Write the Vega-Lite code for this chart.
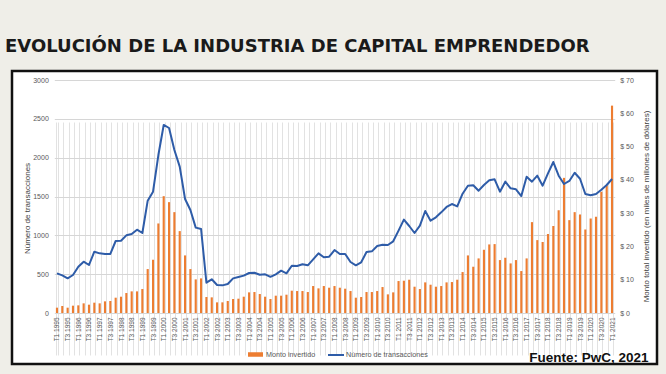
{
  "$schema": "https://vega.github.io/schema/vega-lite/v6.json",
  "width": 645,
  "height": 293,
  "autosize": {"type": "none"},
  "padding": {"left": 12, "top": 71, "right": 9, "bottom": 10},
  "background": "#efeee8",
  "view": {"fill": "white", "stroke": "#111111", "strokeWidth": 2.5},
  "title": {
    "text": "EVOLUCIÓN DE LA INDUSTRIA DE CAPITAL EMPRENDEDOR",
    "anchor": "start",
    "font": "DejaVu Sans",
    "fontSize": 18,
    "fontWeight": "bold",
    "color": "#1a1a1a",
    "offset": 15,
    "dx": -4
  },
  "data": {
    "values": [
      {"q": "T1 1995", "m": 1.6, "n": 511},
      {"q": "T2 1995", "m": 2.1, "n": 485},
      {"q": "T3 1995", "m": 1.6, "n": 447},
      {"q": "T4 1995", "m": 2.2, "n": 489},
      {"q": "T1 1996", "m": 2.3, "n": 596},
      {"q": "T2 1996", "m": 2.9, "n": 661},
      {"q": "T3 1996", "m": 2.5, "n": 618},
      {"q": "T4 1996", "m": 3.1, "n": 789},
      {"q": "T1 1997", "m": 2.9, "n": 768},
      {"q": "T2 1997", "m": 3.5, "n": 760},
      {"q": "T3 1997", "m": 3.6, "n": 760},
      {"q": "T4 1997", "m": 4.6, "n": 927},
      {"q": "T1 1998", "m": 4.9, "n": 931},
      {"q": "T2 1998", "m": 6.0, "n": 1000},
      {"q": "T3 1998", "m": 6.5, "n": 1017},
      {"q": "T4 1998", "m": 6.5, "n": 1073},
      {"q": "T1 1999", "m": 7.2, "n": 1030},
      {"q": "T2 1999", "m": 13.2, "n": 1446},
      {"q": "T3 1999", "m": 16.0, "n": 1562},
      {"q": "T4 1999", "m": 26.9, "n": 2034},
      {"q": "T1 2000", "m": 35.1, "n": 2421},
      {"q": "T2 2000", "m": 33.3, "n": 2382},
      {"q": "T3 2000", "m": 30.3, "n": 2099},
      {"q": "T4 2000", "m": 24.6, "n": 1884},
      {"q": "T1 2001", "m": 17.3, "n": 1468},
      {"q": "T2 2001", "m": 13.2, "n": 1326},
      {"q": "T3 2001", "m": 10.1, "n": 1099},
      {"q": "T4 2001", "m": 10.4, "n": 1082},
      {"q": "T1 2002", "m": 4.8, "n": 390},
      {"q": "T2 2002", "m": 4.7, "n": 434},
      {"q": "T3 2002", "m": 3.2, "n": 361},
      {"q": "T4 2002", "m": 3.2, "n": 356},
      {"q": "T1 2003", "m": 3.6, "n": 373},
      {"q": "T2 2003", "m": 4.2, "n": 446},
      {"q": "T3 2003", "m": 4.3, "n": 464},
      {"q": "T4 2003", "m": 4.9, "n": 481},
      {"q": "T1 2004", "m": 6.2, "n": 515},
      {"q": "T2 2004", "m": 6.3, "n": 519},
      {"q": "T3 2004", "m": 5.7, "n": 493},
      {"q": "T4 2004", "m": 4.9, "n": 498},
      {"q": "T1 2005", "m": 4.2, "n": 466},
      {"q": "T2 2005", "m": 5.2, "n": 498},
      {"q": "T3 2005", "m": 5.2, "n": 545},
      {"q": "T4 2005", "m": 5.5, "n": 511},
      {"q": "T1 2006", "m": 6.7, "n": 609},
      {"q": "T2 2006", "m": 6.6, "n": 605},
      {"q": "T3 2006", "m": 6.6, "n": 627},
      {"q": "T4 2006", "m": 6.3, "n": 614},
      {"q": "T1 2007", "m": 8.1, "n": 691},
      {"q": "T2 2007", "m": 7.4, "n": 768},
      {"q": "T3 2007", "m": 8.1, "n": 717},
      {"q": "T4 2007", "m": 7.6, "n": 725},
      {"q": "T1 2008", "m": 8.1, "n": 811},
      {"q": "T2 2008", "m": 7.6, "n": 760},
      {"q": "T3 2008", "m": 7.3, "n": 760},
      {"q": "T4 2008", "m": 6.6, "n": 657},
      {"q": "T1 2009", "m": 4.6, "n": 614},
      {"q": "T2 2009", "m": 4.8, "n": 653},
      {"q": "T3 2009", "m": 6.3, "n": 785},
      {"q": "T4 2009", "m": 6.3, "n": 794},
      {"q": "T1 2010", "m": 6.6, "n": 863},
      {"q": "T2 2010", "m": 7.8, "n": 878},
      {"q": "T3 2010", "m": 5.6, "n": 876},
      {"q": "T4 2010", "m": 6.2, "n": 923},
      {"q": "T1 2011", "m": 9.6, "n": 1060},
      {"q": "T2 2011", "m": 9.7, "n": 1202},
      {"q": "T3 2011", "m": 10.0, "n": 1120},
      {"q": "T4 2011", "m": 7.9, "n": 1030},
      {"q": "T1 2012", "m": 7.2, "n": 1124},
      {"q": "T2 2012", "m": 9.2, "n": 1313},
      {"q": "T3 2012", "m": 8.5, "n": 1189},
      {"q": "T4 2012", "m": 7.9, "n": 1232},
      {"q": "T1 2013", "m": 8.1, "n": 1296},
      {"q": "T2 2013", "m": 9.2, "n": 1365},
      {"q": "T3 2013", "m": 9.3, "n": 1403},
      {"q": "T4 2013", "m": 10.0, "n": 1373},
      {"q": "T1 2014", "m": 12.3, "n": 1536},
      {"q": "T2 2014", "m": 17.3, "n": 1639},
      {"q": "T3 2014", "m": 13.9, "n": 1644},
      {"q": "T4 2014", "m": 16.4, "n": 1575},
      {"q": "T1 2015", "m": 19.0, "n": 1648},
      {"q": "T2 2015", "m": 20.6, "n": 1708},
      {"q": "T3 2015", "m": 20.7, "n": 1721},
      {"q": "T4 2015", "m": 15.9, "n": 1562},
      {"q": "T1 2016", "m": 16.6, "n": 1691},
      {"q": "T2 2016", "m": 14.9, "n": 1605},
      {"q": "T3 2016", "m": 15.9, "n": 1592},
      {"q": "T4 2016", "m": 12.6, "n": 1506},
      {"q": "T1 2017", "m": 16.4, "n": 1755},
      {"q": "T2 2017", "m": 27.3, "n": 1691},
      {"q": "T3 2017", "m": 21.9, "n": 1768},
      {"q": "T4 2017", "m": 21.3, "n": 1639},
      {"q": "T1 2018", "m": 23.7, "n": 1798},
      {"q": "T2 2018", "m": 26.1, "n": 1944},
      {"q": "T3 2018", "m": 30.9, "n": 1768},
      {"q": "T4 2018", "m": 40.6, "n": 1661},
      {"q": "T1 2019", "m": 27.9, "n": 1700},
      {"q": "T2 2019", "m": 30.3, "n": 1806},
      {"q": "T3 2019", "m": 29.6, "n": 1729},
      {"q": "T4 2019", "m": 25.1, "n": 1532},
      {"q": "T1 2020", "m": 28.4, "n": 1515},
      {"q": "T2 2020", "m": 28.9, "n": 1532},
      {"q": "T3 2020", "m": 36.4, "n": 1588},
      {"q": "T4 2020", "m": 38.4, "n": 1648},
      {"q": "T1 2021", "m": 62.3, "n": 1725}
    ]
  },
  "encoding": {
    "x": {
      "field": "q",
      "type": "ordinal",
      "sort": null,
      "scale": {"range": [42.3, 602.7], "paddingInner": 0.6, "paddingOuter": 0.3},
      "axis": {
        "offset": -51,
        "domain": false,
        "ticks": false,
        "grid": true,
        "gridColor": "#e2e2e2",
        "gridWidth": 1,
        "tickBand": "extent",
        "labelAngle": -90,
        "labelFont": "Liberation Sans",
        "labelFontSize": 6.5,
        "labelColor": "#595959",
        "labelPadding": 4,
        "labelOverlap": false,
        "labelExpr": "(slice(datum.label,0,2)=='T2' || slice(datum.label,0,2)=='T4') ? '' : datum.label",
        "title": "Fuente: PwC, 2021",
        "titleFont": "Liberation Sans",
        "titleFontSize": 13.5,
        "titleFontWeight": "bold",
        "titleColor": "#111111",
        "titleAlign": "right",
        "titleAnchor": null,
        "titleBaseline": "alphabetic",
        "titleX": 636,
        "titleY": 48
      }
    }
  },
  "layer": [
    {
      "mark": {"type": "bar"},
      "encoding": {
        "y": {
          "field": "m",
          "type": "quantitative",
          "scale": {"domain": [0, 70], "range": [242, 9], "nice": false, "zero": true},
          "axis": {
            "orient": "right",
            "offset": -42.3,
            "values": [0, 10, 20, 30, 40, 50, 60, 70],
            "labelExpr": "'$ ' + datum.value",
            "domain": false,
            "ticks": false,
            "grid": false,
            "labelFont": "Liberation Sans",
            "labelFontSize": 7,
            "labelColor": "#595959",
            "labelPadding": 5,
            "title": "Monto total invertido (en miles de millones de dólares)",
            "titleFont": "Liberation Sans",
            "titleFontSize": 8,
            "titleFontWeight": "normal",
            "titleColor": "#404040",
            "titleAngle": 270,
            "titleAlign": "center",
            "titleBaseline": "middle",
            "titleX": 32,
            "titleY": 135
          }
        },
        "fill": {
          "datum": "Monto invertido",
          "scale": {"range": ["#ed7d31"]},
          "legend": {
            "orient": "none",
            "legendX": 236,
            "legendY": 276,
            "title": null,
            "padding": 0,
            "symbolType": "M-1,-0.3H1V0.3H-1Z",
            "symbolSize": 225,
            "symbolStrokeWidth": 0,
            "labelFont": "Liberation Sans",
            "labelFontSize": 7.2,
            "labelColor": "#595959",
            "labelOffset": 3
          }
        }
      }
    },
    {
      "mark": {"type": "line", "strokeWidth": 2, "strokeJoin": "round"},
      "encoding": {
        "y": {
          "field": "n",
          "type": "quantitative",
          "scale": {"domain": [0, 3000], "range": [242, 9], "nice": false},
          "axis": {
            "orient": "left",
            "offset": -42.3,
            "values": [0, 500, 1000, 1500, 2000, 2500, 3000],
            "format": "d",
            "domain": false,
            "ticks": false,
            "grid": true,
            "gridColor": "#d6d6d6",
            "gridWidth": 1.2,
            "labelFont": "Liberation Sans",
            "labelFontSize": 7,
            "labelColor": "#595959",
            "labelPadding": 6,
            "title": "Número de transacciones",
            "titleFont": "Liberation Sans",
            "titleFontSize": 8,
            "titleFontWeight": "normal",
            "titleColor": "#404040",
            "titleAngle": 270,
            "titleAlign": "center",
            "titleBaseline": "middle",
            "titleX": -27,
            "titleY": 137
          }
        },
        "stroke": {
          "datum": "Número de transacciones",
          "scale": {"range": ["#2e5ca8"]},
          "legend": {
            "orient": "none",
            "legendX": 315,
            "legendY": 275,
            "title": null,
            "padding": 0,
            "symbolType": "stroke",
            "symbolSize": 256,
            "symbolStrokeWidth": 2,
            "labelFont": "Liberation Sans",
            "labelFontSize": 7.2,
            "labelColor": "#595959",
            "labelOffset": 1
          }
        }
      }
    }
  ],
  "resolve": {"scale": {"y": "independent"}}
}
